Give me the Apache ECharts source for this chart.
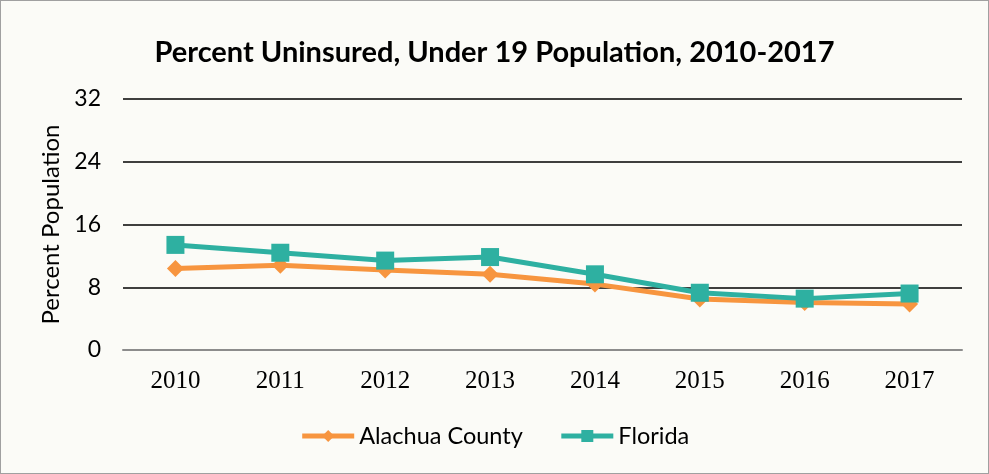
<!DOCTYPE html>
<html>
<head>
<meta charset="utf-8">
<script src="https://cdn.jsdelivr.net/npm/echarts@6/dist/echarts.min.js"></script>
<style>
html,body{margin:0;padding:0;background:#fbfbf7;}
#chart{width:989px;height:474px;box-sizing:border-box;border:1px solid #a0a0a0;}
</style>
</head>
<body>
<div id="chart"></div>
<script>
const years = ['2010','2011','2012','2013','2014','2015','2016','2017'];
const alachua = [10.4, 10.8, 10.2, 9.65, 8.4, 6.5, 6.05, 5.85];
const florida = [13.4, 12.4, 11.4, 11.85, 9.65, 7.3, 6.55, 7.2];
const yTicks = [0, 8, 16, 24, 32];

const chart = echarts.init(document.getElementById('chart'));
chart.setOption({
  backgroundColor: '#fbfbf7',
  title: {
    text: 'Percent Uninsured, Under 19 Population, 2010-2017',
    left: 'center', top: 32,
    textStyle: {fontFamily: 'Lato', fontWeight: 'bold', fontSize: 29, color: '#000'}
  },
  legend: {
    bottom: 20, left: 'center', itemGap: 36, itemWidth: 52, itemHeight: 15,
    textStyle: {fontFamily: 'Lato', fontSize: 23.5, color: '#000'},
    lineStyle: {width: 5},
    data: ['Alachua County', 'Florida']
  },
  grid: {left: 122, right: 26, top: 98, bottom: 123, containLabel: false},
  xAxis: {
    type: 'category', data: years, boundaryGap: true,
    axisLine: {lineStyle: {color: '#8c8c8c', width: 2}},
    axisTick: {show: false},
    axisLabel: {fontFamily: 'Liberation Serif', fontSize: 25, color: '#000', margin: 19}
  },
  yAxis: {
    type: 'value', min: yTicks[0], max: yTicks[yTicks.length-1], interval: 8,
    name: 'Percent Population', nameLocation: 'middle', nameGap: 58,
    nameTextStyle: {fontFamily: 'Lato', fontSize: 24, color: '#000'},
    axisLine: {show: false}, axisTick: {show: false},
    axisLabel: {fontFamily: 'Lato', fontSize: 23, color: '#000', margin: 22},
    splitLine: {lineStyle: {color: '#000', width: 1.5}}
  },
  series: [
    {
      name: 'Alachua County', type: 'line', data: alachua,
      symbol: 'diamond', symbolSize: 17,
      lineStyle: {color: '#f7953f', width: 5},
      itemStyle: {color: '#f7953f'},
      z: 2
    },
    {
      name: 'Florida', type: 'line', data: florida,
      symbol: 'rect', symbolSize: 18,
      lineStyle: {color: '#2eb0a1', width: 5},
      itemStyle: {color: '#2eb0a1'},
      z: 3
    }
  ]
});
</script>
</body>
</html>
